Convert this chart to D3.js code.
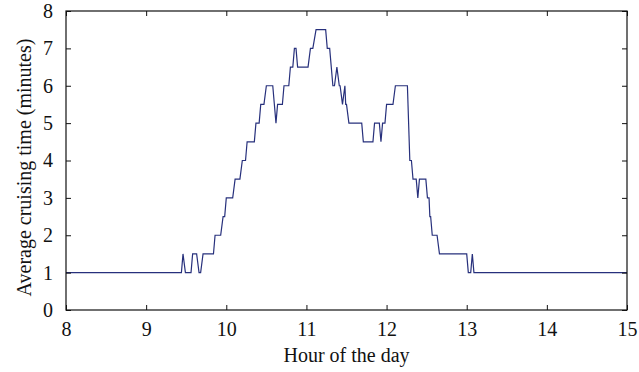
<!DOCTYPE html>
<html>
<head>
<meta charset="utf-8">
<script src="https://d3js.org/d3.v7.min.js"></script>
<style>
  body { margin: 0; background: #fff; }
  svg text { font-family: "Liberation Serif", "Times New Roman", serif; fill: #111; }
</style>
</head>
<body>
<div id="chart"></div>
<script>
// hour of the day (breakpoints of the step curve)
const hours = [8, 9.44, 9.46, 9.49, 9.56, 9.58, 9.63, 9.66, 9.68, 9.71,
  9.84, 9.86, 9.93, 9.96, 9.98, 10.0, 10.08, 10.11, 10.17, 10.2,
  10.24, 10.26, 10.35, 10.37, 10.41, 10.43, 10.47, 10.5, 10.58, 10.6,
  10.62, 10.64, 10.7, 10.72, 10.78, 10.8, 10.83, 10.85, 10.87, 10.89,
  11.02, 11.05, 11.08, 11.12, 11.24, 11.26, 11.29, 11.33, 11.35, 11.38,
  11.41, 11.42, 11.45, 11.48, 11.49, 11.5, 11.53, 11.69, 11.71, 11.83,
  11.85, 11.91, 11.93, 11.95, 11.98, 12.0, 12.08, 12.11, 12.26, 12.29,
  12.31, 12.33, 12.37, 12.39, 12.41, 12.49, 12.51, 12.53, 12.54, 12.55,
  12.57, 12.63, 12.66, 13.0, 13.02, 13.05, 13.07, 13.09, 15];
// average cruising time (minutes)
const cruising = [1, 1, 1.5, 1, 1, 1.5, 1.5, 1, 1, 1.5,
  1.5, 2, 2, 2.5, 2.5, 3, 3, 3.5, 3.5, 4,
  4, 4.5, 4.5, 5, 5, 5.5, 5.5, 6, 6, 5.5,
  5, 5.5, 5.5, 6, 6, 6.5, 6.5, 7, 7, 6.5,
  6.5, 7, 7, 7.5, 7.5, 7, 7, 6, 6, 6.5,
  6, 6, 5.5, 6, 5.5, 5.5, 5, 5, 4.5, 4.5,
  5, 5, 4.5, 5, 5, 5.5, 5.5, 6, 6, 4,
  4, 3.5, 3.5, 3, 3.5, 3.5, 3, 3, 2.5, 2.5,
  2, 2, 1.5, 1.5, 1, 1, 1.5, 1, 1];
const xTicks = [8, 9, 10, 11, 12, 13, 14, 15];
const yTicks = [0, 1, 2, 3, 4, 5, 6, 7, 8];

const W = 639, H = 372;
const margin = { top: 11, right: 12, bottom: 62, left: 66 };
const width = W - margin.left - margin.right,
      height = H - margin.top - margin.bottom;
const serif = '"Liberation Serif", "Times New Roman", serif';

const svg = d3.select("#chart").append("svg")
  .attr("width", W).attr("height", H);
const g = svg.append("g")
  .attr("transform", `translate(${margin.left},${margin.top})`);

const x = d3.scaleLinear().domain([8, 15]).range([0, width]);
const y = d3.scaleLinear().domain([0, 8]).range([height, 0]);

// line
const pts = hours.map((h, i) => [h, cruising[i]]);
g.append("path")
  .datum(pts)
  .attr("fill", "none")
  .attr("stroke", "#27307c")
  .attr("stroke-width", 1.2)
  .attr("d", d3.line().x(d => x(d[0])).y(d => y(d[1])));

// axes with inward ticks
function styleAxis(sel) {
  sel.attr("font-family", null).attr("font-size", null);
  sel.select(".domain").remove();
  sel.selectAll(".tick line").attr("stroke", "#111");
  sel.selectAll(".tick text")
    .style("font-family", serif).style("font-size", "20px").attr("fill", "#111");
}
g.append("g").attr("transform", `translate(0,${height})`)
  .call(d3.axisBottom(x).tickValues(xTicks).tickFormat(d3.format("d"))
    .tickSizeInner(-5).tickPadding(12))
  .call(styleAxis);
g.append("g")
  .call(d3.axisLeft(y).tickValues(yTicks).tickFormat(d3.format("d"))
    .tickSizeInner(-5).tickPadding(13))
  .call(styleAxis);
g.append("g")
  .call(d3.axisTop(x).tickValues(xTicks).tickSizeInner(-5).tickFormat(""))
  .call(styleAxis);
g.append("g").attr("transform", `translate(${width},0)`)
  .call(d3.axisRight(y).tickValues(yTicks).tickSizeInner(-5).tickFormat(""))
  .call(styleAxis);

// frame
g.append("rect")
  .attr("width", width).attr("height", height)
  .attr("fill", "none").attr("stroke", "#111").attr("stroke-width", 1.2);

// axis titles
svg.append("text")
  .attr("x", margin.left + width / 2).attr("y", 362)
  .attr("text-anchor", "middle").style("font-size", "20px")
  .text("Hour of the day");
svg.append("text")
  .attr("transform", `translate(31,${margin.top + height / 2 + 7}) rotate(-90)`)
  .attr("text-anchor", "middle").style("font-size", "20px")
  .text("Average cruising time (minutes)");
</script>
</body>
</html>
